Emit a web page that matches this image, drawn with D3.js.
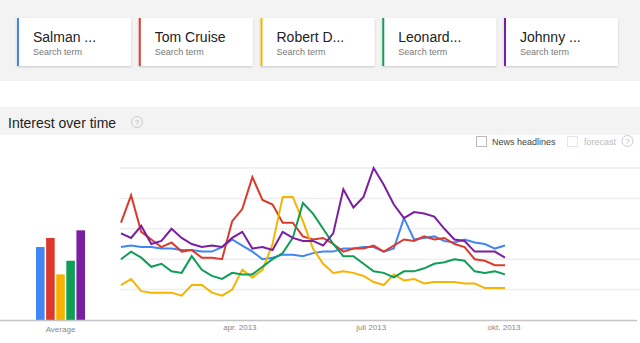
<!DOCTYPE html>
<html>
<head>
<meta charset="utf-8">
<script src="https://cdn.jsdelivr.net/npm/d3@7"></script>
<style>
  html, body { margin: 0; padding: 0; background: #fff; }
  svg { display: block; font-family: "Liberation Sans", Arial, sans-serif; }
</style>
</head>
<body>
<svg id="chart" width="640" height="343"></svg>
<script>
// Search terms and their colours
const terms = ["Salman ...", "Tom Cruise", "Robert D...", "Leonard...", "Johnny ..."];
const colors = ["#4285f4", "#db3a2d", "#f4b400", "#0f9d58", "#7b1fa2"];

// Weekly points (mid-week dates), Jan – Oct 2013
const weeks = [
  "2013-01-09","2013-01-16","2013-01-23","2013-01-30",
  "2013-02-06","2013-02-13","2013-02-20","2013-02-27",
  "2013-03-06","2013-03-13","2013-03-20","2013-03-27",
  "2013-04-03","2013-04-10","2013-04-17","2013-04-24",
  "2013-05-01","2013-05-08","2013-05-15","2013-05-22","2013-05-29",
  "2013-06-05","2013-06-12","2013-06-19","2013-06-26",
  "2013-07-03","2013-07-10","2013-07-17","2013-07-24","2013-07-31",
  "2013-08-07","2013-08-14","2013-08-21","2013-08-28",
  "2013-09-04","2013-09-11","2013-09-18","2013-09-25",
  "2013-10-02"
];

// Interest values (0–100) per term
const salman = [48,49,48,48,47,47,46,46,45,45,48,53,49,45,40,41,43,43,42,44,45,45,47,47,48,48,45,47,67,53,54,55,52,51,53,51,50,47,49];
const tomCruise = [64,82,58,53,48,51,45,46,41,41,40,65,73,94,79,76,64,64,55,53,54,50,45,47,47,49,45,49,53,52,55,53,54,50,48,40,39,36,36];
const robertD = [23,27,19,18,18,18,16,23,23,18,16,20,33,28,33,50,81,81,65,47,37,31,32,31,29,25,23,30,26,27,24,25,25,25,24,24,21,21,21];
const leonardo = [40,45,41,35,37,32,31,42,33,29,27,31,30,30,35,40,44,54,77,70,60,50,42,42,37,32,31,28,32,32,34,37,38,40,39,32,31,32,30];
const johnny = [57,54,62,50,52,60,54,50,48,49,48,54,58,47,48,46,58,54,52,52,49,57,86,74,81,100,89,76,67,71,70,68,60,53,52,45,45,45,41];

// Average interest per term
const averages = [48, 54, 30, 39, 59];

// Month ticks on the time axis
const tickDates = ["2013-04-01", "2013-07-01", "2013-10-01"];
const tickLabels = ["apr. 2013", "juli 2013", "okt. 2013"];

const gridValues = [20, 40, 60, 80, 100];

const series = [salman, tomCruise, robertD, leonardo, johnny];
const parse = d3.utcParse("%Y-%m-%d");
const dates = weeks.map(parse);

const svg = d3.select("#chart");
const W = 640;

// ---- Top area with search term cards ----
svg.append("rect").attr("x", 0).attr("y", 0).attr("width", W).attr("height", 81).attr("fill", "#f3f3f3");

const defs = svg.append("defs");
const f = defs.append("filter").attr("id", "shadow").attr("x", "-10%").attr("y", "-10%").attr("width", "120%").attr("height", "130%");
f.append("feDropShadow").attr("dx", 0).attr("dy", 1).attr("stdDeviation", 0.8).attr("flood-color", "#000").attr("flood-opacity", 0.18);

const cardX = d3.scalePoint().domain(terms).range([17, 504]);
const cards = svg.selectAll("g.card").data(terms).join("g")
  .attr("class", "card")
  .attr("transform", d => `translate(${cardX(d)},18)`);
cards.append("rect").attr("width", 114).attr("height", 48).attr("fill", "#fff").attr("filter", "url(#shadow)");
cards.append("rect").attr("width", 2).attr("height", 48).attr("fill", (d, i) => colors[i]);
cards.append("text").attr("x", 16).attr("y", 24).attr("font-size", 14).attr("fill", "#222").text(d => d);
cards.append("text").attr("x", 16).attr("y", 37).attr("font-size", 9).attr("fill", "#777").text("Search term");

// ---- Section header ----
svg.append("rect").attr("x", 0).attr("y", 107).attr("width", W).attr("height", 28).attr("fill", "#f3f3f3");
svg.append("text").attr("x", 8).attr("y", 127.5).attr("font-size", 14).attr("fill", "#222").text("Interest over time");

function helpIcon(cx, cy) {
  svg.append("circle").attr("cx", cx).attr("cy", cy).attr("r", 5.5).attr("fill", "none").attr("stroke", "#ccc").attr("stroke-width", 1);
  svg.append("text").attr("x", cx).attr("y", cy + 3).attr("text-anchor", "middle").attr("font-size", 8).attr("fill", "#bbb").text("?");
}
helpIcon(137, 122);

// Options row
svg.append("rect").attr("x", 476.5).attr("y", 136.5).attr("width", 10).attr("height", 10).attr("fill", "#fff").attr("stroke", "#bbb");
svg.append("text").attr("x", 492).attr("y", 144.5).attr("font-size", 9).attr("fill", "#444").text("News headlines");
svg.append("rect").attr("x", 567.5).attr("y", 136.5).attr("width", 10).attr("height", 10).attr("fill", "#fff").attr("stroke", "#e6e6e6");
svg.append("text").attr("x", 584).attr("y", 144.5).attr("font-size", 9).attr("fill", "#bbb").text("forecast");
helpIcon(627.5, 141);

// ---- Scales ----
const y = d3.scaleLinear().domain([0, 100]).range([320, 168]);
const x = d3.scaleUtc().domain([dates[0], dates[dates.length - 1]]).range([121, 505]);
const bx = d3.scaleBand().domain(terms).range([36, 85]).paddingInner(0.15);

// Gridlines
svg.append("g").selectAll("line").data(gridValues).join("line")
  .attr("x1", 120).attr("x2", W)
  .attr("y1", d => y(d)).attr("y2", d => y(d))
  .attr("stroke", "#eeeeee").attr("stroke-width", 1.5);

// Average bars
svg.append("g").selectAll("rect").data(averages).join("rect")
  .attr("x", (d, i) => bx(terms[i]))
  .attr("width", bx.bandwidth())
  .attr("y", d => y(d))
  .attr("height", d => y(0) - y(d))
  .attr("fill", (d, i) => colors[i]);

// Baseline
svg.append("line").attr("x1", 0).attr("x2", 637).attr("y1", 320.5).attr("y2", 320.5)
  .attr("stroke", "#c4c4c4").attr("stroke-width", 1.5);

svg.append("text").attr("x", (bx.range()[0] + bx.range()[1]) / 2).attr("y", 332)
  .attr("text-anchor", "middle").attr("font-size", 8).attr("fill", "#888").text("Average");

// Time axis labels
const axis = d3.axisBottom(x)
  .tickValues(tickDates.map(parse))
  .tickSize(0)
  .tickPadding(0)
  .tickFormat((d, i) => tickLabels[i]);
const ax = svg.append("g").attr("transform", "translate(0,324.5)").call(axis);
ax.select(".domain").remove();
ax.selectAll("text").attr("font-size", 8).attr("fill", "#888")
  .attr("font-family", "Liberation Sans, Arial, sans-serif");

// Interest lines
const line = d3.line().x((d, i) => x(dates[i])).y(d => y(d));
svg.append("g").selectAll("path").data(series).join("path")
  .attr("d", line)
  .attr("fill", "none")
  .attr("stroke", (d, i) => colors[i])
  .attr("stroke-width", 2)
  .attr("stroke-linejoin", "miter");
</script>
</body>
</html>
